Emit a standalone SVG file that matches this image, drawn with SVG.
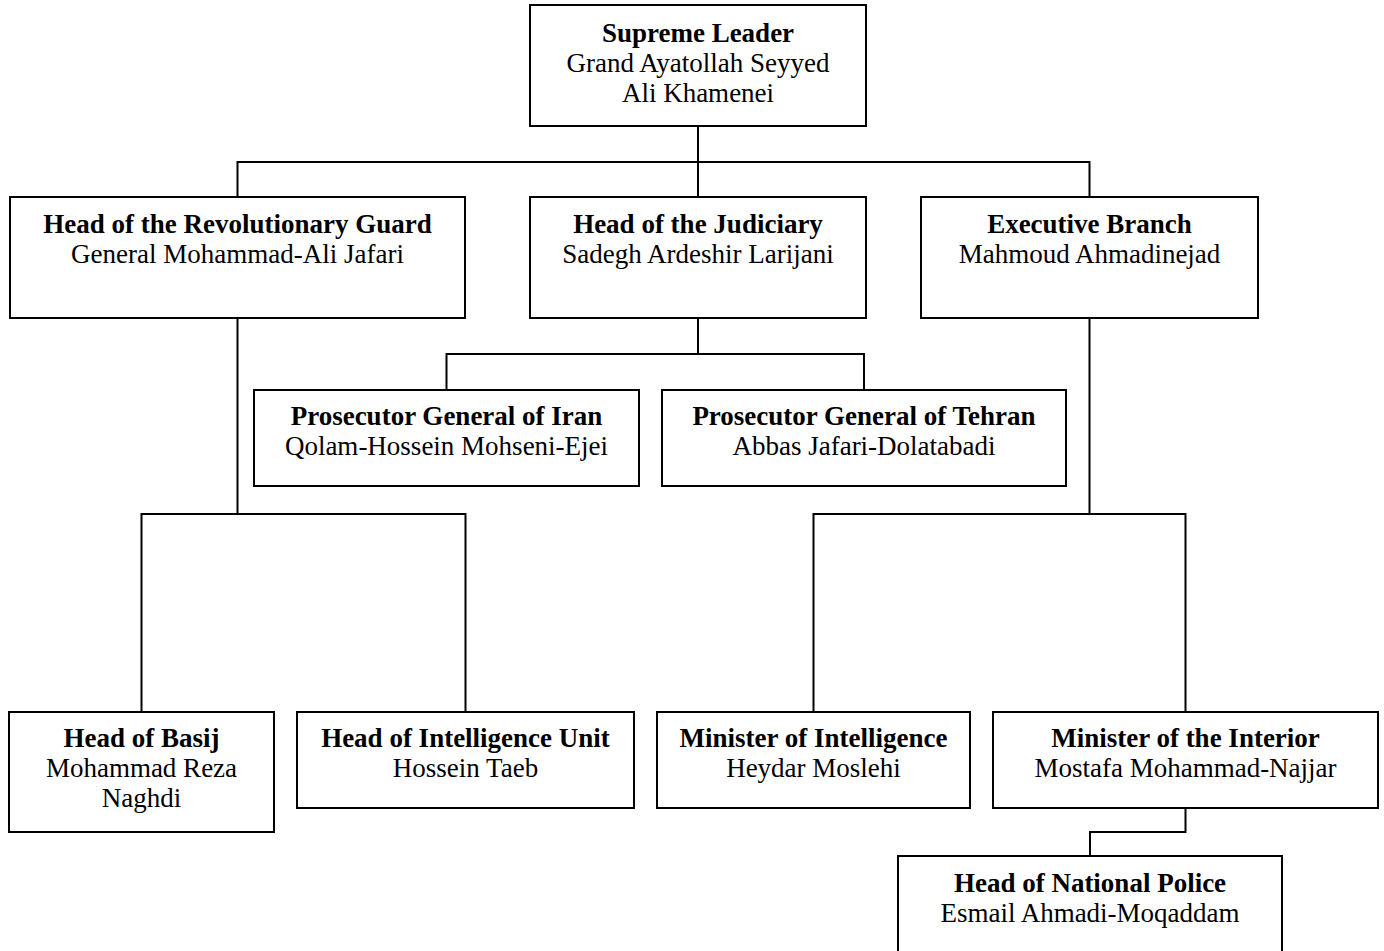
<svg xmlns="http://www.w3.org/2000/svg" width="1384" height="951" viewBox="0 0 1384 951">
<style>
.box{fill:#fff;stroke:#000;stroke-width:2}
.t{font-family:"Liberation Serif","Times New Roman",serif;font-size:27px;fill:#000;text-anchor:middle}
.b{font-weight:bold}
.c{fill:none;stroke:#000;stroke-width:2}
</style>
<rect width="1384" height="951" fill="#fff"/>
<g id="connectors">
<path class="c" d="M698,126 V197"/>
<path class="c" d="M237.5,197 V162 H1089.5 V197"/>
<path class="c" d="M698,318 V354"/>
<path class="c" d="M446.5,390 V354 H864 V390"/>
<path class="c" d="M237.5,318 V514"/>
<path class="c" d="M141.5,712 V514 H465.5 V712"/>
<path class="c" d="M1089.5,318 V514"/>
<path class="c" d="M813.5,712 V514 H1185.5 V712"/>
<path class="c" d="M1185.5,808 V832 H1090 V856"/>
</g>
<g id="supreme-leader">
<rect class="box" x="530" y="5" width="336" height="121"/>
<text class="t b" x="698" y="41.5">Supreme Leader</text>
<text class="t" x="698" y="71.5">Grand Ayatollah Seyyed</text>
<text class="t" x="698" y="101.5">Ali Khamenei</text>
</g>
<g id="revolutionary-guard">
<rect class="box" x="10" y="197" width="455" height="121"/>
<text class="t b" x="237.5" y="233">Head of the Revolutionary Guard</text>
<text class="t" x="237.5" y="263">General Mohammad-Ali Jafari</text>
</g>
<g id="judiciary">
<rect class="box" x="530" y="197" width="336" height="121"/>
<text class="t b" x="698" y="233">Head of the Judiciary</text>
<text class="t" x="698" y="263">Sadegh Ardeshir Larijani</text>
</g>
<g id="executive">
<rect class="box" x="921" y="197" width="337" height="121"/>
<text class="t b" x="1089.5" y="233">Executive Branch</text>
<text class="t" x="1089.5" y="263">Mahmoud Ahmadinejad</text>
</g>
<g id="prosecutor-iran">
<rect class="box" x="254" y="390" width="385" height="96"/>
<text class="t b" x="446.5" y="425">Prosecutor General of Iran</text>
<text class="t" x="446.5" y="455">Qolam-Hossein Mohseni-Ejei</text>
</g>
<g id="prosecutor-tehran">
<rect class="box" x="662" y="390" width="404" height="96"/>
<text class="t b" x="864" y="425">Prosecutor General of Tehran</text>
<text class="t" x="864" y="455">Abbas Jafari-Dolatabadi</text>
</g>
<g id="basij">
<rect class="box" x="9" y="712" width="265" height="120"/>
<text class="t b" x="141.5" y="747">Head of Basij</text>
<text class="t" x="141.5" y="777">Mohammad Reza</text>
<text class="t" x="141.5" y="807">Naghdi</text>
</g>
<g id="intelligence-unit">
<rect class="box" x="297" y="712" width="337" height="96"/>
<text class="t b" x="465.5" y="747">Head of Intelligence Unit</text>
<text class="t" x="465.5" y="777">Hossein Taeb</text>
</g>
<g id="minister-intelligence">
<rect class="box" x="657" y="712" width="313" height="96"/>
<text class="t b" x="813.5" y="747">Minister of Intelligence</text>
<text class="t" x="813.5" y="777">Heydar Moslehi</text>
</g>
<g id="minister-interior">
<rect class="box" x="993" y="712" width="385" height="96"/>
<text class="t b" x="1185.5" y="747">Minister of the Interior</text>
<text class="t" x="1185.5" y="777">Mostafa Mohammad-Najjar</text>
</g>
<g id="national-police">
<rect class="box" x="898" y="856" width="384" height="110"/>
<text class="t b" x="1090" y="892">Head of National Police</text>
<text class="t" x="1090" y="922">Esmail Ahmadi-Moqaddam</text>
</g>
</svg>
